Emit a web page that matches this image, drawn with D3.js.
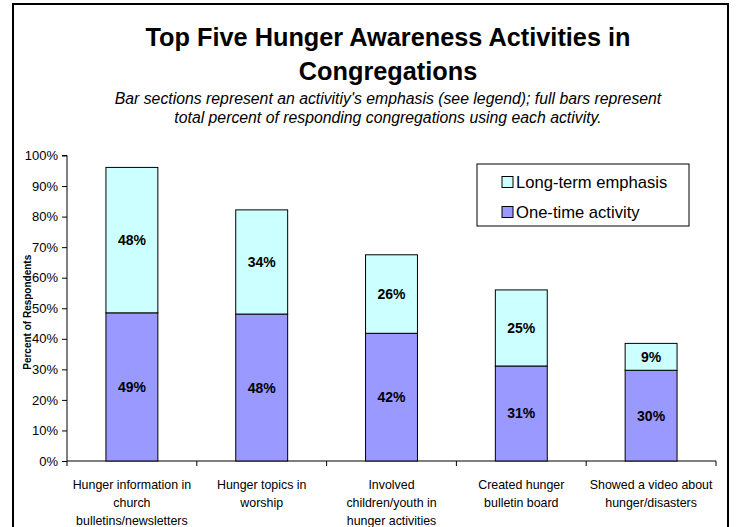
<!DOCTYPE html>
<html>
<head>
<meta charset="utf-8">
<script src="https://cdn.jsdelivr.net/npm/d3@7"></script>
<style>
  body { margin: 0; background: #fff; }
  svg text { font-family: Arial, "Liberation Sans", sans-serif; }
</style>
</head>
<body>
<svg id="chart" width="736" height="527"></svg>
<script>
// chart values
const categories = [
  ['Hunger information in', 'church', 'bulletins/newsletters'],
  ['Hunger topics in', 'worship'],
  ['Involved', 'children/youth in', 'hunger activities'],
  ['Created hunger', 'bulletin board'],
  ['Showed a video about', 'hunger/disasters']
]
const oneTime = [48.5, 48.1, 41.8, 31.1, 29.7]
const longTerm = [47.6, 34.1, 25.7, 24.9, 8.8]
const seriesNames = ['One-time activity', 'Long-term emphasis']
const seriesColors = ['#9999ff', '#ccffff']
const yTicks = [0, 10, 20, 30, 40, 50, 60, 70, 80, 90, 100]

const svg = d3.select('#chart')

// outer frame
svg.append('rect')
  .attr('x', 13).attr('y', 4)
  .attr('width', 715).attr('height', 540)
  .attr('fill', 'none').attr('stroke', '#000').attr('stroke-width', 2)

// titles
const cx = 388
svg.append('text').attr('x', cx).attr('y', 46)
  .attr('text-anchor', 'middle').attr('font-size', 25.3).attr('font-weight', 'bold')
  .text('Top Five Hunger Awareness Activities in')
svg.append('text').attr('x', cx).attr('y', 80)
  .attr('text-anchor', 'middle').attr('font-size', 25.3).attr('font-weight', 'bold')
  .text('Congregations')
svg.append('text').attr('x', cx).attr('y', 104)
  .attr('text-anchor', 'middle').attr('font-size', 15.8).attr('font-style', 'italic')
  .text("Bar sections represent an activitiy's emphasis (see legend); full bars represent")
svg.append('text').attr('x', cx).attr('y', 123)
  .attr('text-anchor', 'middle').attr('font-size', 15.8).attr('font-style', 'italic')
  .text('total percent of responding congregations using each activity.')

// scales
const x = d3.scaleBand()
  .domain(d3.range(categories.length))
  .range([67, 716])
  .paddingInner(0.6)
  .paddingOuter(0.3)

const y = d3.scaleLinear().domain([0, 100]).range([461, 155.5])

// y axis
const yAxis = svg.append('g')
  .attr('transform', 'translate(67,0)')
  .call(d3.axisLeft(y).tickValues(yTicks).tickSize(5).tickPadding(4)
    .tickFormat(d => d + '%'))
yAxis.selectAll('text').attr('font-size', 13).attr('font-family', null).attr('fill', '#000')
yAxis.selectAll('line, path').attr('stroke', '#000')
yAxis.select('.domain').attr('d', `M-5,${y(100)}H0V${y(0)}`)

svg.append('text')
  .attr('transform', `translate(31,${(y(0) + y(100)) / 2 + 4}) rotate(-90)`)
  .attr('text-anchor', 'middle').attr('font-size', 10).attr('font-weight', 'bold')
  .text('Percent of Respondents')

// x axis: ticks on the band edges
const step = x.step()
const edges = d3.range(categories.length + 1).map(i => 67 + i * step)
svg.append('line')
  .attr('x1', 67).attr('x2', 716).attr('y1', y(0)).attr('y2', y(0))
  .attr('stroke', '#000')
svg.selectAll('.xtick').data(edges).join('line')
  .attr('class', 'xtick')
  .attr('x1', d => d).attr('x2', d => d)
  .attr('y1', y(0)).attr('y2', y(0) + 5)
  .attr('stroke', '#000')

const xLabels = svg.selectAll('.xlabel').data(categories).join('text')
  .attr('class', 'xlabel')
  .attr('text-anchor', 'middle').attr('font-size', 12.4)
  .attr('transform', (d, i) => `translate(${x(i) + x.bandwidth() / 2},489)`)
xLabels.selectAll('tspan').data(d => d).join('tspan')
  .attr('x', 0).attr('y', (d, i) => i * 18)
  .text(d => d)

// stacked bars
const rows = categories.map((c, i) => ({ i, one: oneTime[i], long: longTerm[i] }))
const stack = d3.stack().keys(['one', 'long'])(rows)

const layers = svg.selectAll('.layer').data(stack).join('g')
  .attr('class', 'layer')
  .attr('fill', (d, k) => seriesColors[k])

layers.selectAll('rect').data(d => d).join('rect')
  .attr('x', d => x(d.data.i))
  .attr('width', x.bandwidth())
  .attr('y', d => y(d[1]))
  .attr('height', d => y(d[0]) - y(d[1]))
  .attr('stroke', '#000').attr('stroke-width', 1)

layers.selectAll('text').data(d => d).join('text')
  .attr('x', d => x(d.data.i) + x.bandwidth() / 2)
  .attr('y', d => (y(d[0]) + y(d[1])) / 2 + 5)
  .attr('text-anchor', 'middle').attr('font-size', 14).attr('font-weight', 'bold')
  .attr('fill', '#000')
  .text(d => Math.round(d[1] - d[0]) + '%')

// legend
const legend = svg.append('g').attr('transform', 'translate(477,164)')
legend.append('rect')
  .attr('width', 212).attr('height', 62)
  .attr('fill', '#fff').attr('stroke', '#000')
const legendItems = [1, 0]
legend.selectAll('.item').data(legendItems).join('g')
  .attr('class', 'item')
  .attr('transform', (d, i) => `translate(25,${18 + i * 30})`)
  .call(g => {
    g.append('rect').attr('x', 0).attr('y', -5.5).attr('width', 11).attr('height', 11)
      .attr('fill', d => seriesColors[d]).attr('stroke', '#000')
    g.append('text').attr('x', 14).attr('y', 6)
      .attr('font-size', 16.6).text(d => seriesNames[d])
  })
</script>
</body>
</html>
